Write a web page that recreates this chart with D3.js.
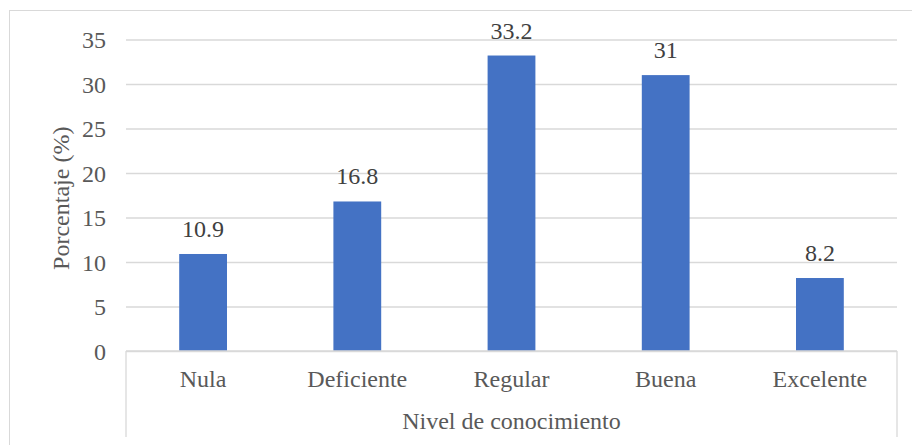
<!DOCTYPE html>
<html lang="es">
<head>
<meta charset="utf-8">
<script src="https://cdn.jsdelivr.net/npm/d3@7"></script>
<style>
  html, body { margin: 0; padding: 0; background: #ffffff; }
  svg { display: block; }
  svg text { font-family: "Liberation Serif", "Times New Roman", serif; }
</style>
</head>
<body>
<svg id="chart" width="912" height="445"></svg>
<script>
// Nivel de conocimiento: porcentaje por categoría
const categories = ["Nula", "Deficiente", "Regular", "Buena", "Excelente"];
const percentages = [10.9, 16.8, 33.2, 31, 8.2];
const yTickValues = [0, 5, 10, 15, 20, 25, 30, 35];
const yTitle = "Porcentaje (%)";
const xTitle = "Nivel de conocimiento";

const svg = d3.select("#chart");
const W = 912, H = 445;
const plot = { left: 126, right: 897, top: 39.5, bottom: 351 };
const gridColor = "#d9d9d9";
const labelColor = "#595959";
const valueColor = "#404040";
const barColor = "#4472c4";
const fontSize = 24;
const serif = "Liberation Serif, Times New Roman, serif";

// outer chart frame
svg.append("rect")
  .attr("x", 9.5).attr("y", 10.5)
  .attr("width", W).attr("height", H)
  .attr("fill", "none")
  .attr("stroke", gridColor)
  .attr("stroke-width", 1);

const y = d3.scaleLinear().domain([0, 35]).range([plot.bottom, plot.top]);
const x = d3.scaleBand()
  .domain(categories)
  .range([plot.left, plot.right])
  .paddingInner(0.69)
  .paddingOuter(0.345);

// value axis with gridlines
const yAxis = svg.append("g")
  .attr("transform", `translate(${plot.left},0)`)
  .call(d3.axisLeft(y).tickValues(yTickValues).tickSize(-(plot.right - plot.left)).tickPadding(20).tickFormat(d3.format("d")));
yAxis.attr("font-family", serif);
yAxis.select(".domain").remove();
yAxis.selectAll(".tick line").attr("stroke", gridColor).attr("stroke-width", 1.3);
yAxis.selectAll(".tick text")
  .attr("fill", labelColor)
  .attr("font-size", fontSize)
  .attr("font-family", serif)
  .attr("dy", "0.34em");

// bars
svg.append("g").selectAll("rect")
  .data(percentages)
  .join("rect")
  .attr("x", (d, i) => x(categories[i]))
  .attr("y", d => y(d))
  .attr("width", x.bandwidth())
  .attr("height", d => y(0) - y(d))
  .attr("fill", barColor);

// value labels above bars
svg.append("g").selectAll("text")
  .data(percentages)
  .join("text")
  .attr("x", (d, i) => x(categories[i]) + x.bandwidth() / 2)
  .attr("y", d => y(d) - 17)
  .attr("text-anchor", "middle")
  .attr("font-size", fontSize)
  .attr("font-family", serif)
  .attr("fill", valueColor)
  .text(d => d);

// category axis line and box sides
svg.append("line")
  .attr("x1", plot.left).attr("x2", plot.right)
  .attr("y1", plot.bottom).attr("y2", plot.bottom)
  .attr("stroke", gridColor).attr("stroke-width", 1.3);
[plot.left, plot.right].forEach(px => {
  svg.append("line")
    .attr("x1", px).attr("x2", px)
    .attr("y1", plot.bottom).attr("y2", 437)
    .attr("stroke", gridColor).attr("stroke-width", 1.3);
});

const xAxis = svg.append("g")
  .attr("transform", `translate(0,${plot.bottom})`)
  .call(d3.axisBottom(x).tickSize(0));
xAxis.attr("font-family", serif);
xAxis.select(".domain").remove();
xAxis.selectAll(".tick text")
  .attr("y", 36)
  .attr("dy", 0)
  .attr("fill", labelColor)
  .attr("font-size", fontSize)
  .attr("font-family", serif);

// axis titles
svg.append("text")
  .attr("x", (plot.left + plot.right) / 2)
  .attr("y", 429)
  .attr("text-anchor", "middle")
  .attr("font-size", fontSize)
  .attr("font-family", serif)
  .attr("fill", labelColor)
  .text(xTitle);

svg.append("text")
  .attr("transform", `translate(69,${(plot.top + plot.bottom) / 2 + 3}) rotate(-90)`)
  .attr("text-anchor", "middle")
  .attr("font-size", fontSize)
  .attr("font-family", serif)
  .attr("fill", labelColor)
  .text(yTitle);
</script>
</body>
</html>
